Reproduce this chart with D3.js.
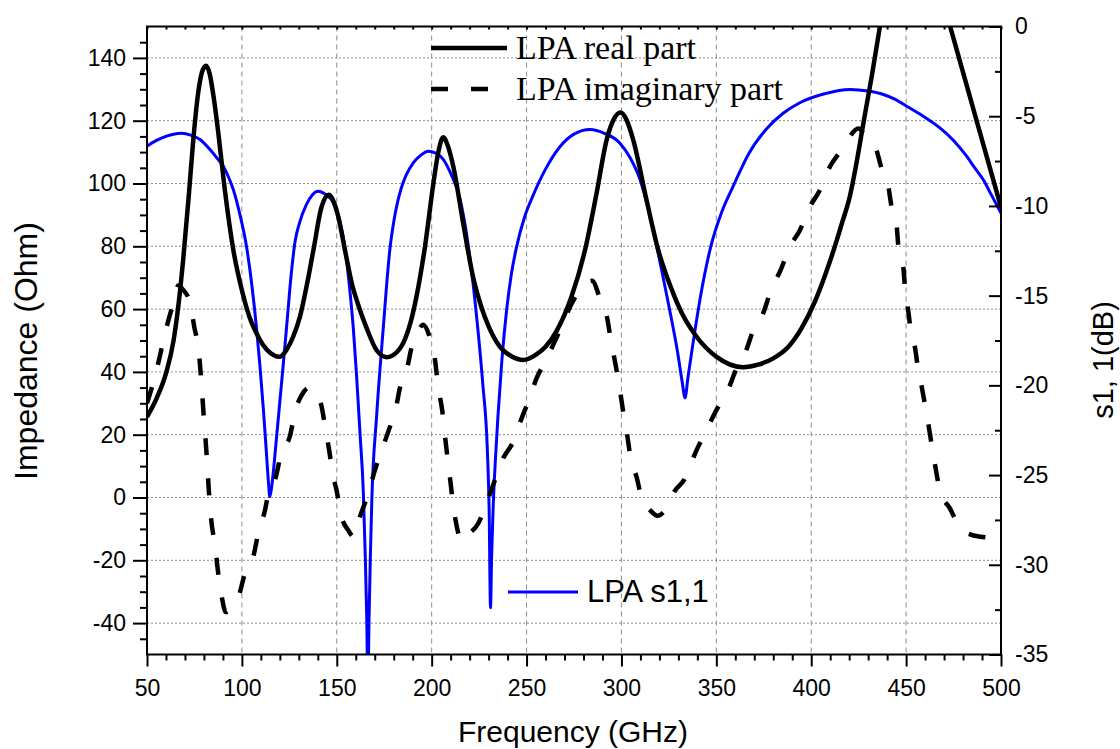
<!DOCTYPE html>
<html>
<head>
<meta charset="utf-8">
<script src="https://cdn.jsdelivr.net/npm/d3@7"></script>
<style>
  body { margin: 0; background: #fff; }
  svg { display: block; }
</style>
</head>
<body>
<svg id="chart" width="1120" height="749"></svg>
<script>

// DATA
// ========================================================================
// LPA real part (Ohm)
var realFreq = [50, 55, 60, 64, 67, 69.1, 72, 74.4, 77, 79, 81.1, 83, 85, 87.6, 91, 95.5, 100, 104, 107.7, 111, 115, 119.7,
                123.5, 127, 130.6, 134, 137.7, 142, 145.9, 148.5, 150.8, 154.3, 158, 161.5, 165.7, 171, 176.3,
                182, 186, 189, 192, 196.5, 200.9, 203.5, 206.1, 208.5, 211.4, 216.7, 221.9, 226, 230, 236, 242, 248.3,
                255, 260, 265.8, 273.7, 280.8, 286.9, 292.2, 296, 299.6, 302.5, 306.2, 313.2, 319.4, 326, 332, 339.6,
                350.1, 364.1, 372, 380, 388, 395, 402, 408, 413, 416, 420.4, 424, 428, 432, 436.2, 442, 447, 452,
                458, 465, 473.2, 480, 487, 494, 500];
var realOhm  = [25.7, 31.5, 39.5, 50, 63.5, 76, 96, 114, 129, 135.5, 137.5, 135, 128, 116, 98, 78.8, 66, 57.5, 52.3, 48.7, 46, 44.8,
                47, 51.2, 57.6, 67, 78.8, 92.6, 96.4, 94, 89.4, 78.8, 68, 61, 54, 46.9, 44.7,
                46.5, 50.5, 56, 64, 80, 100, 110, 114.7, 112, 105.4, 87, 70, 61, 54.5, 48, 45, 43.8,
                45.5, 48, 53, 64, 78.8, 96.9, 113.9, 120.5, 122.6, 120.5, 113.9, 94.8, 78.8, 67, 58.5, 51.2,
                44.8, 41.5, 42.3, 44.3, 48, 54, 62.5, 72, 81, 87, 96, 107, 121, 134.5, 150, 169, 179, 183,
                180, 168, 150, 135.4, 120.3, 105.3, 92.4];

// LPA imaginary part (Ohm)
var imagFreq = [50, 53, 56, 59, 62, 64.5, 66.5, 68.5, 72.7, 75, 77, 78.5, 80, 81.5, 82.5, 84, 85.8, 87.5, 89.5, 91.5,
                95, 98.2, 101.6, 106, 108.6, 112.2, 114, 117.4, 121, 125.3, 128, 131.5, 135.5, 139.4, 142, 144,
                146, 148, 150, 152, 156, 159, 162, 166.6, 170.1, 173.7, 178, 181, 183.3, 187, 189.5, 193, 195.5,
                199, 201.5, 203.5, 205.5, 207.5, 209.5, 211.5, 213.5, 216, 219, 224.6, 229.8, 232.4, 237.7, 243,
                247.4, 250.9, 255.3, 259.7, 267.6, 274, 279, 284.5, 288.7, 292.2, 294.5, 297, 299, 301, 303, 305,
                308, 311, 315, 319, 323, 328, 333, 339.6, 344, 350.1, 355.4, 360.7, 365.1, 369.5, 374.7, 379.1,
                383.5, 388.8, 394.1, 399.3, 404.6, 409.9, 416, 425, 428, 433.6, 437, 440.5, 442.5, 445, 446,
                448.5, 449.5, 451, 452.5, 454.6, 456.4, 458.2, 461, 464.5, 468.2, 473, 476.5, 480, 484, 488.4, 500];
var imagOhm  = [30, 36, 43, 51, 58, 63, 67.5, 66.5, 62, 54, 48, 38, 25, 13, 3, -8, -15, -24, -32, -36.5,
                -34.5, -31.6, -24.2, -18.9, -11.4, -4, 1.5, 5.6, 14.6, 19.5, 27.3, 32.6, 35, 33, 29, 22,
                15, 7, 2, -5, -10.4, -12.5, -6.5, 1.3, 8.7, 15.1, 22.5, 28, 35, 41, 48, 53, 55,
                51, 45, 35, 28, 17, 7, -3, -10, -14, -12, -8.2, -0.3, 4, 12.5, 17.8,
                25.2, 30.5, 38, 43.2, 53.3, 62, 67, 69, 63.4, 58, 50, 42, 35, 27, 20, 12,
                6.5, -1, -4, -5.8, -4, 2, 5.6, 15.1, 20.4, 27.9, 33.2, 41.1, 45.9, 53.3, 58.7, 66.6,
                71.9, 79.9, 85.2, 92.6, 97.9, 105.4, 110.7, 117.5, 115.5, 112, 105, 99.5, 92, 86.5, 79.5,
                73.5, 66, 60, 53, 48, 40.6, 35.3, 26, 13, 1.4, -3.4, -7.5, -10.5, -11.8, -12.4, -13];

// LPA s1,1 (dB)
var s11Freq = [50, 55, 60.3, 64, 68.3, 73, 77.9, 83.2, 87, 90.2, 93, 95.5, 99, 102.5, 105, 107.7, 109.5, 111.3, 112.7,
               114, 114.7, 115.5, 116.6, 118, 120, 122, 124, 126, 128, 130.5, 134.1, 137, 140.2, 144,
               148.2, 151.5, 154.3, 156.5, 158.7, 160.4, 162.2, 164, 165, 165.8, 166.4, 167, 167.7, 168.5, 171,
               174.5, 178, 180, 182, 184, 186.5, 190.3, 194, 198.2, 202, 206.1, 210.5, 214.9, 218, 221, 224, 227,
               229.3, 230.3, 231, 231.6, 232.4, 233.5, 235, 237, 239.5, 242, 244.7, 249, 253.5, 260, 267.6, 275,
               283.4, 291, 299.2, 304.5, 309.7, 314, 318.5, 322, 325.6, 329.5, 332, 333.5, 335, 337.5, 341.4, 347,
               353, 358.9, 367, 376.5, 385, 394, 407, 420.4, 430, 438, 444, 450.3, 459, 467.8, 475, 481.9, 486,
               490.6, 495, 500];
var s11dB   = [-6.67, -6.35, -6.11, -6.0, -5.95, -6.05, -6.3, -6.86, -7.35, -7.79, -8.4, -9.1, -10.5, -12.3, -14.2,
               -16.8, -18.9, -21.3, -23.4, -25.4, -26.2, -25.8, -24.8, -23.2, -20.9, -18.6, -16.2, -13.8, -12.0,
               -10.9, -9.9, -9.4, -9.18, -9.35, -9.83, -10.8, -12.3, -14.3, -16.8, -19.4, -22.6, -26, -29.5,
               -33, -37, -33, -29.5, -26.3, -21.7, -16.8, -12.4, -10.9, -9.8, -9.0, -8.3, -7.6, -7.2, -6.95, -7.05,
               -7.4, -8.3, -9.6, -11.3, -13.6, -16.5, -20, -23.5, -27, -32.4, -29.5, -26.8, -24.3, -21.6, -18.6,
               -15.8, -13.8, -12.3, -10.6, -9.4, -7.95, -6.7, -6.0, -5.74, -5.95, -6.5, -7.3, -8.5, -10.1, -12.2,
               -14.0, -15.9, -18.1, -19.8, -20.7, -19.6, -17.8, -15.2, -12.3, -10.3, -8.9, -7.1, -5.7, -4.85, -4.25,
               -3.75, -3.51, -3.6, -3.79, -4.05, -4.44, -5.0, -5.65, -6.35, -7.23, -7.85, -8.53, -9.4, -10.4];

// ticks
var xTicks = [50, 100, 150, 200, 250, 300, 350, 400, 450, 500];
var xMinor = d3.range(60, 500, 10).filter(function (d) { return d % 50 != 0; });
var yLeftTicks = [-40, -20, 0, 20, 40, 60, 80, 100, 120, 140];
var yLeftMinor = d3.range(-45, 150, 5).filter(function (d) { return d % 20 != 0; });
var yRightTicks = [-35, -30, -25, -20, -15, -10, -5, 0];
var yRightMinor = [-32.5, -27.5, -22.5, -17.5, -12.5, -7.5, -2.5];
// ========================================================================


var PLOT_LEFT = 147, PLOT_RIGHT = 1001, PLOT_TOP = 26.5, PLOT_BOTTOM = 654.5;
var SANS = "'Liberation Sans', Arial, sans-serif";
var SERIF = "'Liberation Serif', 'Times New Roman', serif";

var svg = d3.select("#chart");

var x = d3.scaleLinear().domain([50, 500]).range([PLOT_LEFT, PLOT_RIGHT]);
var yLeft = d3.scaleLinear().domain([-50, 150]).range([PLOT_BOTTOM, PLOT_TOP]);
var yRight = d3.scaleLinear().domain([-35, 0]).range([PLOT_BOTTOM, PLOT_TOP]);

svg.append("defs").append("clipPath").attr("id", "plot_clip")
   .append("rect")
     .attr("x", PLOT_LEFT).attr("y", PLOT_TOP)
     .attr("width", PLOT_RIGHT - PLOT_LEFT).attr("height", PLOT_BOTTOM - PLOT_TOP);

// Grid
var grid = svg.append("g").attr("id", "grid");
grid.selectAll(".vgrid")
    .data(xTicks.slice(1, -1)).enter()
    .append("line")
      .attr("class", "vgrid")
      .attr("x1", function (d) { return x(d); }).attr("x2", function (d) { return x(d); })
      .attr("y1", PLOT_TOP).attr("y2", PLOT_BOTTOM)
      .style("stroke", "#8c8c8c").style("stroke-width", 1).style("stroke-dasharray", "5,4");
grid.selectAll(".hgrid")
    .data(yLeftTicks).enter()
    .append("line")
      .attr("class", "hgrid")
      .attr("x1", PLOT_LEFT).attr("x2", PLOT_RIGHT)
      .attr("y1", function (d) { return yLeft(d); }).attr("y2", function (d) { return yLeft(d); })
      .style("stroke", "#8c8c8c").style("stroke-width", 1).style("stroke-dasharray", "2,2");

// Curves
var lines = svg.append("g").attr("clip-path", "url(#plot_clip)");

var leftLine = d3.line()
    .x(function (d) { return x(d[0]); })
    .y(function (d) { return yLeft(d[1]); })
    .curve(d3.curveMonotoneX);
var rightLine = d3.line()
    .x(function (d) { return x(d[0]); })
    .y(function (d) { return yRight(d[1]); })
    .curve(d3.curveMonotoneX);

lines.append("path")
    .attr("d", rightLine(d3.zip(s11Freq, s11dB)))
    .style("fill", "none").style("stroke", "#0000ff").style("stroke-width", 3);
lines.append("path")
    .attr("d", leftLine(d3.zip(imagFreq, imagOhm)))
    .style("fill", "none").style("stroke", "#000").style("stroke-width", 4.5)
    .style("stroke-dasharray", "17,23");
lines.append("path")
    .attr("d", leftLine(d3.zip(realFreq, realOhm)))
    .style("fill", "none").style("stroke", "#000").style("stroke-width", 4.5);

// Axes
function styleAxis(g) {
  g.select(".domain").remove();
  g.selectAll(".tick line").style("stroke", "#000").style("stroke-width", 2);
  g.attr("font-family", SANS).attr("font-size", 23);
  g.selectAll(".tick text").style("fill", "#000");
}
function plain(d) { return String(d); }

svg.append("g").attr("transform", "translate(0," + PLOT_BOTTOM + ")")
   .call(d3.axisBottom(x).tickValues(xTicks).tickSize(12).tickPadding(13).tickFormat(plain))
   .call(styleAxis);
svg.append("g").attr("transform", "translate(0," + PLOT_BOTTOM + ")")
   .call(d3.axisBottom(x).tickValues(xMinor).tickSize(6).tickFormat(""))
   .call(styleAxis);
svg.append("g").attr("transform", "translate(0," + PLOT_TOP + ")")
   .call(d3.axisTop(x).tickValues(xMinor.concat(xTicks)).tickSize(-3).tickFormat(""))
   .call(styleAxis);

svg.append("g").attr("transform", "translate(" + PLOT_LEFT + ",0)")
   .call(d3.axisLeft(yLeft).tickValues(yLeftTicks).tickSize(14).tickPadding(7).tickFormat(plain))
   .call(styleAxis);
svg.append("g").attr("transform", "translate(" + PLOT_LEFT + ",0)")
   .call(d3.axisLeft(yLeft).tickValues(yLeftMinor).tickSize(7).tickFormat(""))
   .call(styleAxis);

svg.append("g").attr("transform", "translate(" + PLOT_RIGHT + ",0)")
   .call(d3.axisRight(yRight).tickValues(yRightTicks).tickSize(-12).tickPadding(14).tickFormat(plain))
   .call(styleAxis);
svg.append("g").attr("transform", "translate(" + PLOT_RIGHT + ",0)")
   .call(d3.axisRight(yRight).tickValues(yRightMinor).tickSize(-6).tickFormat(""))
   .call(styleAxis);

// Frame
svg.append("rect")
    .attr("x", PLOT_LEFT).attr("y", PLOT_TOP)
    .attr("width", PLOT_RIGHT - PLOT_LEFT).attr("height", PLOT_BOTTOM - PLOT_TOP)
    .style("fill", "none").style("stroke", "#000").style("stroke-width", 2);

// Axis titles
svg.append("text")
    .attr("x", 573).attr("y", 742)
    .attr("text-anchor", "middle")
    .style("font-family", SANS).style("font-size", "30px")
    .text("Frequency (GHz)");
svg.append("text")
    .attr("transform", "translate(37,351) rotate(-90)")
    .attr("text-anchor", "middle")
    .style("font-family", SANS).style("font-size", "32px")
    .text("Impedance (Ohm)");
svg.append("text")
    .attr("transform", "translate(1113,360) rotate(-90)")
    .attr("text-anchor", "middle")
    .style("font-family", SANS).style("font-size", "29px")
    .text("s1, 1(dB)");

// Legends
var legend = svg.append("g");
legend.append("line")
    .attr("x1", 431).attr("x2", 507).attr("y1", 48).attr("y2", 48)
    .style("stroke", "#000").style("stroke-width", 4.5);
legend.append("text")
    .attr("x", 516).attr("y", 59)
    .style("font-family", SERIF).style("font-size", "34px")
    .text("LPA real part");
legend.append("line")
    .attr("x1", 431).attr("x2", 507).attr("y1", 89).attr("y2", 89)
    .style("stroke", "#000").style("stroke-width", 4.5).style("stroke-dasharray", "17,23");
legend.append("text")
    .attr("x", 516).attr("y", 100)
    .style("font-family", SERIF).style("font-size", "34px")
    .text("LPA imaginary part");

legend.append("line")
    .attr("x1", 508).attr("x2", 578).attr("y1", 592).attr("y2", 592)
    .style("stroke", "#0000ff").style("stroke-width", 3);
legend.append("text")
    .attr("x", 587).attr("y", 602)
    .style("font-family", SANS).style("font-size", "31px")
    .text("LPA s1,1");

</script>
</body>
</html>
